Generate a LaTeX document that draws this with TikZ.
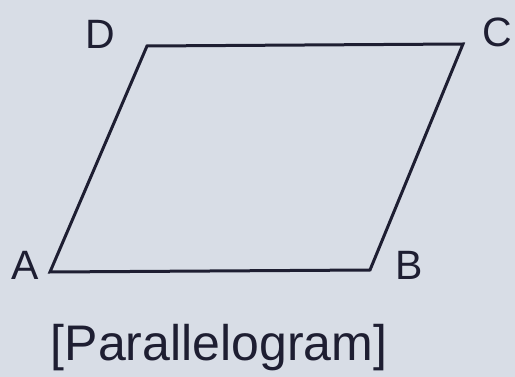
\documentclass[tikz,border=0pt]{standalone}
\usepackage{fontspec}
\setmainfont{Liberation Sans}
\definecolor{bg}{RGB}{216,221,230}
\definecolor{ink}{RGB}{30,30,50}
\begin{document}
\begin{tikzpicture}[x=1pt,y=-1pt,
  edge/.style={draw=ink,line width=3pt,line join=miter},
  lbl/.style={text=ink,inner sep=0pt,font=\fontsize{41}{43}\selectfont},
  captext/.style={text=ink,inner sep=0pt,font=\fontsize{50}{53}\selectfont}]
\fill[bg] (0,0) rectangle (515,377);
\useasboundingbox (0,0) rectangle (515,377);
\coordinate (A) at (50,272);
\coordinate (B) at (370,270);
\coordinate (C) at (463,44);
\coordinate (D) at (147,46);
\draw[edge] (A) -- (B) -- (C) -- (D) -- cycle;
\node[lbl] (la) at (25,265) {A};
\node[lbl] (lb) at (409,265) {B};
\node[lbl] (lc) at (497,32) {C};
\node[lbl] (ld) at (100,34) {D};
\node[captext,anchor=base] (title) at (219,361) {[Parallelogram]};
\end{tikzpicture}
\end{document}
